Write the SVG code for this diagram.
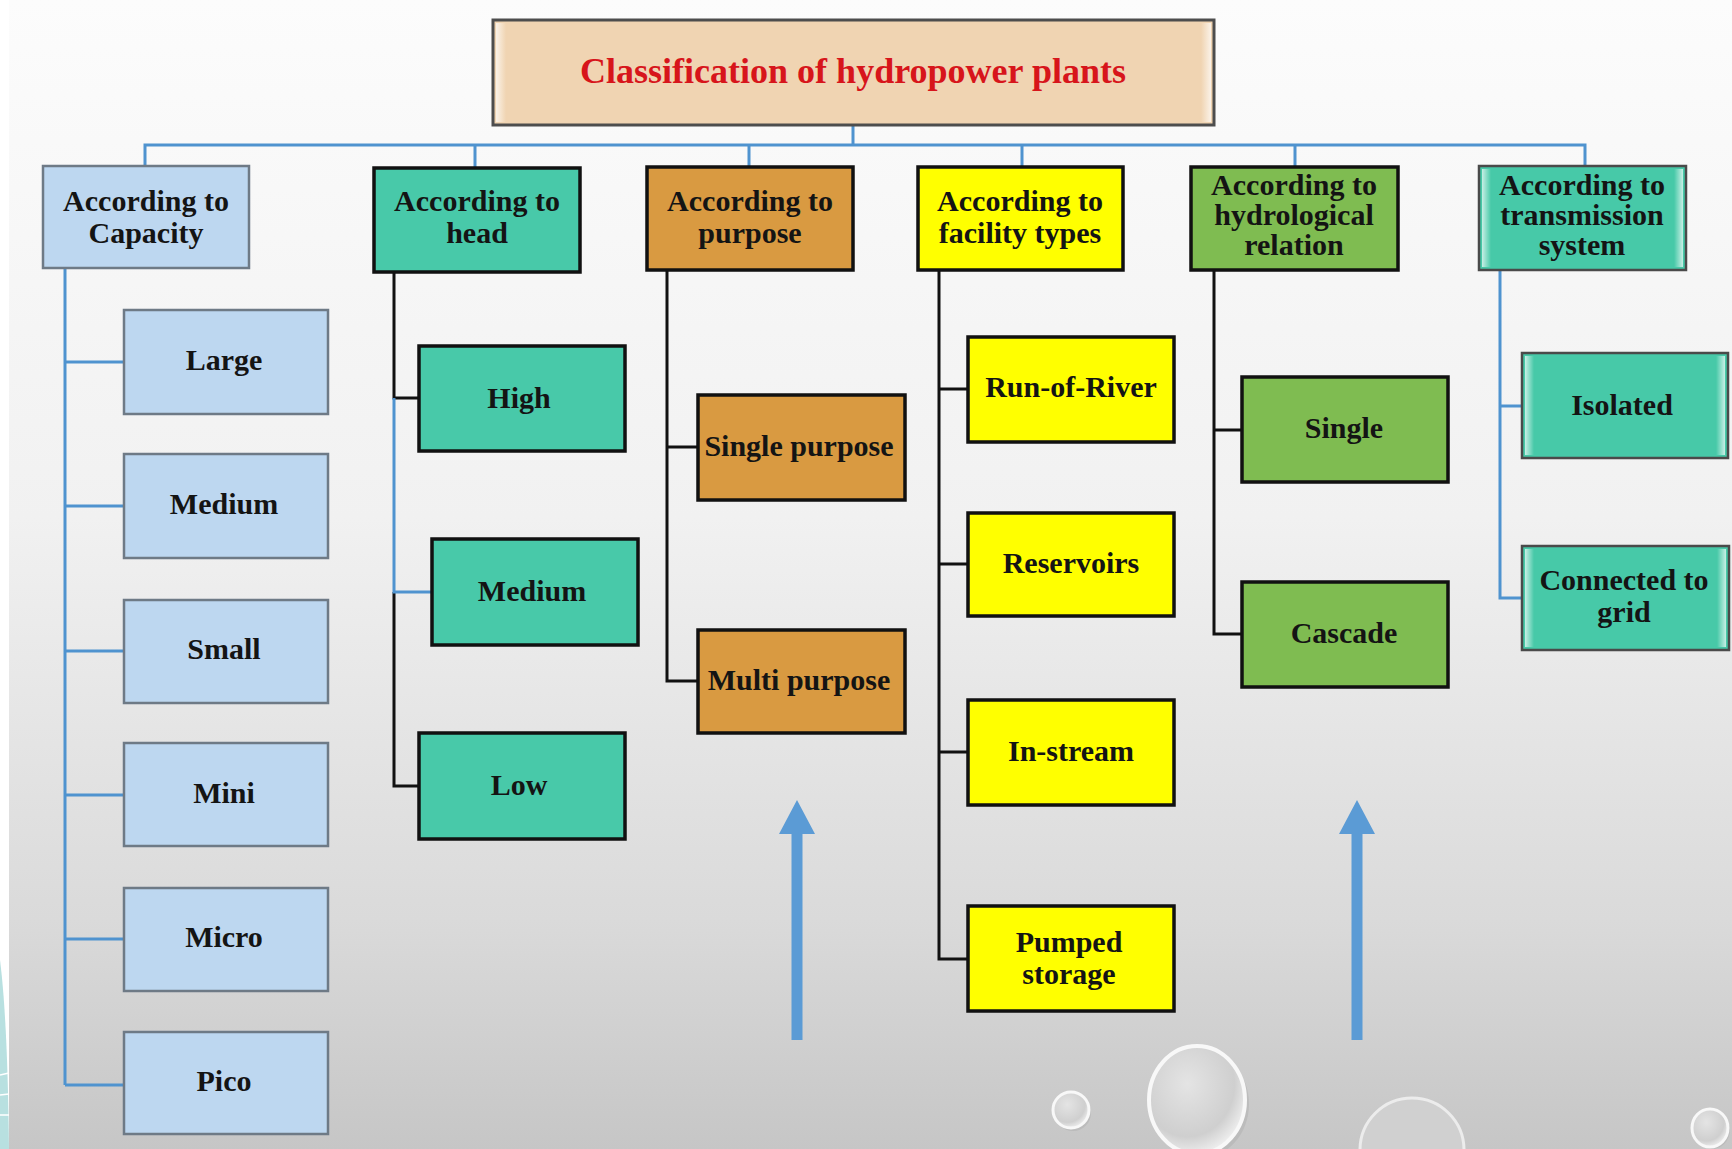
<svg xmlns="http://www.w3.org/2000/svg" width="1732" height="1149" viewBox="0 0 1732 1149">
<defs>
<linearGradient id="bg" x1="0" y1="0" x2="0" y2="1">
<stop offset="0" stop-color="#fcfcfc"/>
<stop offset="0.45" stop-color="#f1f1f1"/>
<stop offset="0.8" stop-color="#dadada"/>
<stop offset="1" stop-color="#c6c6c6"/>
</linearGradient>
<radialGradient id="bub" cx="0.4" cy="0.35" r="0.7">
<stop offset="0" stop-color="#e4e4e4"/>
<stop offset="0.7" stop-color="#cfcfcf"/>
<stop offset="1" stop-color="#f4f4f4"/>
</radialGradient>
<linearGradient id="bevelL" x1="0" y1="0" x2="1" y2="0">
<stop offset="0" stop-color="#ffffff" stop-opacity="0.7"/>
<stop offset="1" stop-color="#ffffff" stop-opacity="0"/>
</linearGradient>
<linearGradient id="bevelR" x1="1" y1="0" x2="0" y2="0">
<stop offset="0" stop-color="#ffffff" stop-opacity="0.7"/>
<stop offset="1" stop-color="#ffffff" stop-opacity="0"/>
</linearGradient>
</defs>
<style>
text{font-family:"Liberation Serif","Times New Roman",serif;font-weight:bold;font-size:30px;fill:#141414;text-anchor:middle}
.title{fill:#d7151b;font-size:35px}
.cap{fill:#bdd7f0;stroke:#6e7a86;stroke-width:2.5}
.head{fill:#48c9a9;stroke:#111;stroke-width:3.5}
.pur{fill:#d99a41;stroke:#111;stroke-width:3.5}
.fac{fill:#ffff00;stroke:#111;stroke-width:3.5}
.hyd{fill:#7fbc51;stroke:#111;stroke-width:3.5}
.tra{fill:#47c9a8;stroke:#4a4a4a;stroke-width:2.5}
.bl{stroke:#4f93cf;stroke-width:3;fill:none}
.bk{stroke:#111;stroke-width:3;fill:none}
.arr{fill:#5b9bd5}
</style>
<rect x="0" y="0" width="1732" height="1149" fill="url(#bg)"/>
<rect x="0" y="0" width="9" height="1149" fill="#ffffff"/>
<path d="M0 960 C5 1000 8 1060 9 1149 L0 1149 Z" fill="#b8e0e0"/>
<path d="M0 1075 L9 1073 M0 1095 L9 1094 M0 1115 L9 1115" stroke="#ffffff" stroke-width="1.5"/>

<g id="bubbles">
<ellipse cx="1073" cy="1113" rx="18" ry="18" fill="#b0b0b0" opacity="0.5"/>
<ellipse cx="1071" cy="1110" rx="18" ry="18" fill="url(#bub)" stroke="#f8f8f8" stroke-width="3"/>
<ellipse cx="1201" cy="1104" rx="48" ry="54" fill="#b0b0b0" opacity="0.5"/>
<ellipse cx="1197" cy="1100" rx="48" ry="54" fill="url(#bub)" stroke="#f8f8f8" stroke-width="4"/>
<ellipse cx="1412" cy="1150" rx="52" ry="52" fill="#d0d0d0" stroke="#ececec" stroke-width="3"/>
<ellipse cx="1712" cy="1130" rx="18" ry="19" fill="#b0b0b0" opacity="0.5"/>
<ellipse cx="1710" cy="1128" rx="18" ry="19" fill="url(#bub)" stroke="#f8f8f8" stroke-width="3"/>
</g>

<g id="connectors">
<polyline class="bl" points="145,166 145,145 1585,145 1585,166"/>
<line class="bl" x1="853" y1="125" x2="853" y2="145"/>
<line class="bl" x1="475" y1="145" x2="475" y2="168"/>
<line class="bl" x1="749" y1="145" x2="749" y2="167"/>
<line class="bl" x1="1022" y1="145" x2="1022" y2="167"/>
<line class="bl" x1="1295" y1="145" x2="1295" y2="167"/>
<path class="bl" d="M65 268 V1085 M65 362 H124 M65 506 H124 M65 651 H124 M65 795 H124 M65 939 H124 M65 1085 H124" stroke-width="3.5"/>
<path class="bk" d="M394 272 V398 H419 M394 592 V786 H419"/>
<path class="bl" d="M394 398 V592 H432"/>
<path class="bk" d="M667 270 V681 H698 M667 447 H698"/>
<path class="bk" d="M939 270 V959 H968 M939 389 H968 M939 564 H968 M939 752 H968"/>
<path class="bk" d="M1214 270 V634 H1242 M1214 430 H1242"/>
<path class="bl" d="M1500 270 V598 H1522 M1500 406 H1522"/>
</g>

<g id="arrows">
<path class="arr" d="M791.5 1040 V834 H779 L797 800 L815 834 H802.5 V1040 Z"/>
<path class="arr" d="M1351.5 1040 V834 H1339 L1357 800 L1375 834 H1362.5 V1040 Z"/>
</g>

<g id="title">
<rect x="493" y="20" width="721" height="105" fill="#f0d4b2" stroke="#4d4d4d" stroke-width="3"/>
<rect x="496" y="23" width="10" height="99" fill="url(#bevelL)"/>
<rect x="1201" y="23" width="10" height="99" fill="url(#bevelR)"/>
<text class="title" x="853" y="83" textLength="546" lengthAdjust="spacingAndGlyphs">Classification of  hydropower plants</text>
</g>

<g id="capacity"><rect class="cap" x="43" y="166" width="206" height="102"/><text x="146" y="211">According to</text><text x="146" y="243">Capacity</text></g>
<g id="head"><rect class="head" x="374" y="168" width="206" height="104"/><text x="477" y="211">According to</text><text x="477" y="243">head</text></g>
<g id="purpose"><rect class="pur" x="647" y="167" width="206" height="103"/><text x="750" y="211">According to</text><text x="750" y="243">purpose</text></g>
<g id="facility"><rect class="fac" x="918" y="167" width="205" height="103"/><text x="1020" y="211">According to</text><text x="1020" y="243">facility types</text></g>
<g id="hydrological"><rect class="hyd" x="1191" y="167" width="207" height="103"/><text x="1294" y="195">According to</text><text x="1294" y="225">hydrological</text><text x="1294" y="255">relation</text></g>
<g id="transmission"><rect class="tra" x="1479" y="166" width="207" height="104"/><rect x="1482" y="169" width="9" height="98" fill="url(#bevelL)"/><rect x="1674" y="169" width="9" height="98" fill="url(#bevelR)"/><text x="1582" y="195">According to</text><text x="1582" y="225">transmission</text><text x="1582" y="255">system</text></g>

<g id="cap-large"><rect class="cap" x="124" y="310" width="204" height="104"/><text x="224" y="370">Large</text></g>
<g id="cap-medium"><rect class="cap" x="124" y="454" width="204" height="104"/><text x="224" y="514">Medium</text></g>
<g id="cap-small"><rect class="cap" x="124" y="600" width="204" height="103"/><text x="224" y="659">Small</text></g>
<g id="cap-mini"><rect class="cap" x="124" y="743" width="204" height="103"/><text x="224" y="803">Mini</text></g>
<g id="cap-micro"><rect class="cap" x="124" y="888" width="204" height="103"/><text x="224" y="947">Micro</text></g>
<g id="cap-pico"><rect class="cap" x="124" y="1032" width="204" height="102"/><text x="224" y="1091">Pico</text></g>

<g id="head-high"><rect class="head" x="419" y="346" width="206" height="105"/><text x="519" y="408">High</text></g>
<g id="head-medium"><rect class="head" x="432" y="539" width="206" height="106"/><text x="532" y="601">Medium</text></g>
<g id="head-low"><rect class="head" x="419" y="733" width="206" height="106"/><text x="519" y="795">Low</text></g>

<g id="pur-single"><rect class="pur" x="698" y="395" width="207" height="105"/><text x="799" y="456">Single purpose</text></g>
<g id="pur-multi"><rect class="pur" x="698" y="630" width="207" height="103"/><text x="799" y="690">Multi purpose</text></g>

<g id="fac-ror"><rect class="fac" x="968" y="337" width="206" height="105"/><text x="1071" y="397">Run-of-River</text></g>
<g id="fac-res"><rect class="fac" x="968" y="513" width="206" height="103"/><text x="1071" y="573">Reservoirs</text></g>
<g id="fac-ins"><rect class="fac" x="968" y="700" width="206" height="105"/><text x="1071" y="761">In-stream</text></g>
<g id="fac-pump"><rect class="fac" x="968" y="906" width="206" height="105"/><text x="1069" y="952">Pumped</text><text x="1069" y="984">storage</text></g>

<g id="hyd-single"><rect class="hyd" x="1242" y="377" width="206" height="105"/><text x="1344" y="438">Single</text></g>
<g id="hyd-cascade"><rect class="hyd" x="1242" y="582" width="206" height="105"/><text x="1344" y="643">Cascade</text></g>

<g id="tra-isolated"><rect class="tra" x="1522" y="353" width="206" height="105"/><rect x="1525" y="356" width="9" height="99" fill="url(#bevelL)"/><rect x="1716" y="356" width="9" height="99" fill="url(#bevelR)"/><text x="1622" y="415">Isolated</text></g>
<g id="tra-grid"><rect class="tra" x="1522" y="546" width="207" height="104"/><rect x="1525" y="549" width="9" height="98" fill="url(#bevelL)"/><rect x="1717" y="549" width="9" height="98" fill="url(#bevelR)"/><text x="1624" y="590">Connected to</text><text x="1624" y="622">grid</text></g>
</svg>
